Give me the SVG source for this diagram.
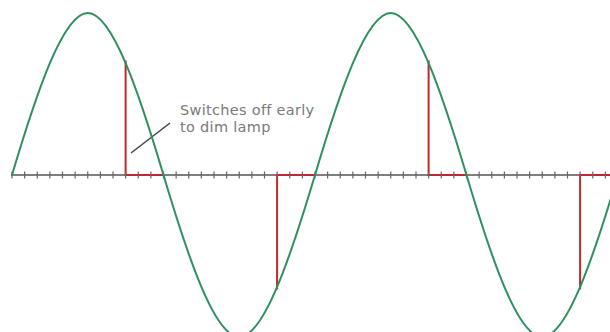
<svg xmlns="http://www.w3.org/2000/svg" width="610" height="332" viewBox="0 0 610 332">
<style>
.axis{stroke:#555;stroke-width:1.5;fill:none}
.tick{stroke:#666;stroke-width:1.2;fill:none}
.cut{stroke:#c0282a;stroke-width:2;fill:none}
.wave{stroke:#2f8f5f;stroke-width:2;fill:none}
.lead{stroke:#444;stroke-width:1.5;fill:none}
.lbl{font-family:"DejaVu Sans",Verdana,sans-serif;font-size:14.5px;letter-spacing:0.3px;fill:#7a7a7a}
</style>
<rect width="610" height="332" fill="#fff"/>
<g id="axis">
<path class="axis" d="M11,175H610"/>
</g>
<g id="connectors">
<path class="cut" d="M125.6,60.4V175H163.5"/>
<path class="cut" d="M277.1,289.6V175H315"/>
<path class="cut" d="M428.6,60.4V175H466.5"/>
<path class="cut" d="M580.1,289.6V175H610"/>
<path class="lead" d="M131,153L170,123"/>
</g>
<g id="ticks">
<path class="tick" d="M12,171.5v7M24.625,171.5v7M37.25,171.5v7M49.875,171.5v7M62.5,171.5v7M75.125,171.5v7M87.75,171.5v7M100.375,171.5v7M113,171.5v7M125.625,171.5v7M138.25,171.5v7M150.875,171.5v7M163.5,171.5v7M176.125,171.5v7M188.75,171.5v7M201.375,171.5v7M214,171.5v7M226.625,171.5v7M239.25,171.5v7M251.875,171.5v7M264.5,171.5v7M277.125,171.5v7M289.75,171.5v7M302.375,171.5v7M315,171.5v7M327.625,171.5v7M340.25,171.5v7M352.875,171.5v7M365.5,171.5v7M378.125,171.5v7M390.75,171.5v7M403.375,171.5v7M416,171.5v7M428.625,171.5v7M441.25,171.5v7M453.875,171.5v7M466.5,171.5v7M479.125,171.5v7M491.75,171.5v7M504.375,171.5v7M517,171.5v7M529.625,171.5v7M542.25,171.5v7M554.875,171.5v7M567.5,171.5v7M580.125,171.5v7M592.75,171.5v7M605.375,171.5v7"/>
</g>
<g id="wave">
<path class="wave" d="M12,175C36.7,92 63.34,13 87.75,13C112.16,13 138.8,92 163.5,175C188.2,258 214.84,337 239.25,337C263.66,337 290.3,258 315,175C339.7,92 366.34,13 390.75,13C415.16,13 441.8,92 466.5,175C491.2,258 517.84,337 542.25,337C566.66,337 593.3,258 618,175"/>
</g>
<g id="label">
<text class="lbl" x="180" y="114.5">Switches off early</text>
<text class="lbl" x="180" y="132">to dim lamp</text>
</g>
</svg>
